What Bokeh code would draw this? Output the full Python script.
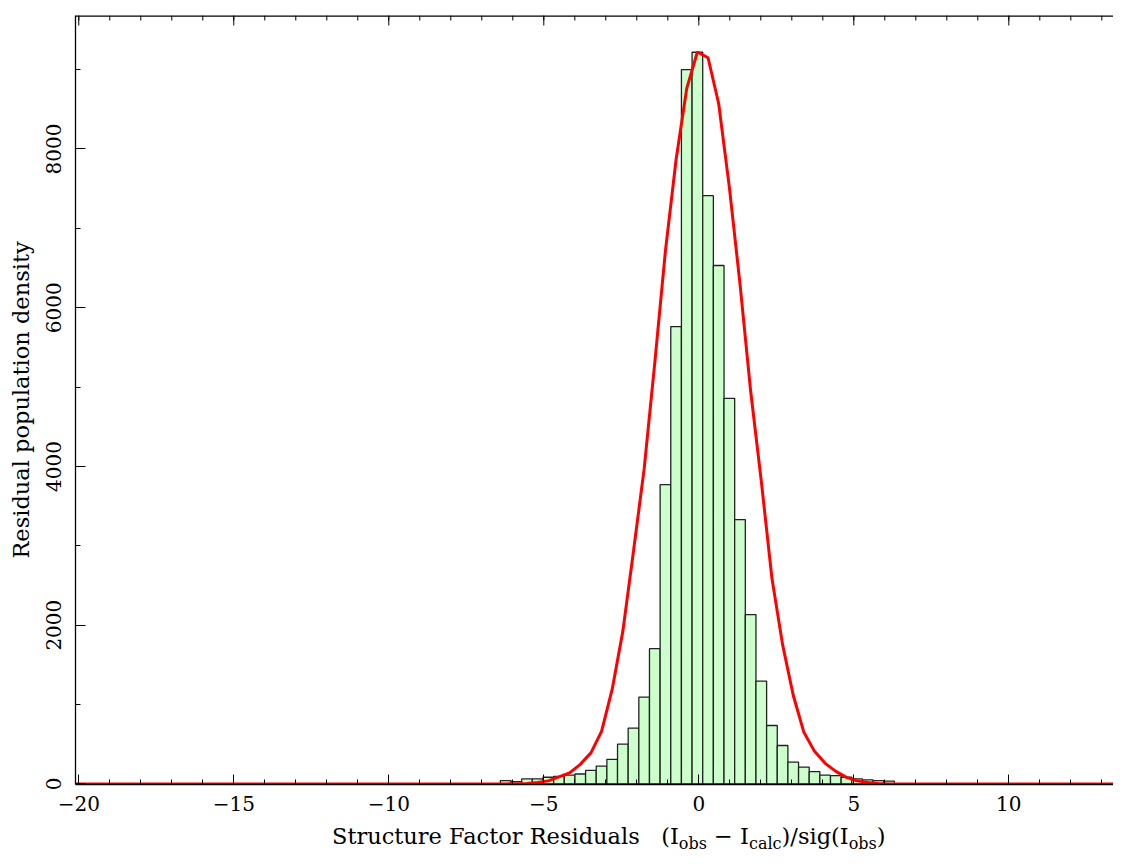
import numpy as np
from bokeh.plotting import figure
from bokeh.models import FixedTicker, Range1d, Span, Div
from bokeh.layouts import column
from bokeh.embed import file_html
from bokeh.resources import INLINE

# ---- data ----
BIN_START = -6.40      # left edge of first non-empty bin
BIN_WIDTH = 0.3435     # histogram bin width
counts = [42, 29, 63, 63, 84, 95, 110, 125, 170, 225,
          309, 500, 703, 1094, 1704, 3772, 5763, 9001, 9219, 7412,
          6532, 4858, 3331, 2133, 1296, 736, 484, 275, 212, 154,
          110, 105, 84, 63, 50, 42, 34]
fit = [0, 3, 6, 19, 38, 88, 139, 246, 391, 662,
       1193, 1925, 2934, 3969, 5307, 6720, 7868, 8764, 9222, 9150,
       8570, 7520, 6300, 4950, 3815, 2590, 1755, 1117, 650, 410,
       259, 158, 82, 38, 19, 6, 0]
X_MIN, X_MAX = -20.106, 13.377
Y_MIN, Y_MAX = -7.6, 9682
x_major = [-20, -15, -10, -5, 0, 5, 10]
x_minor = list(range(-20, 14))
x_labels = ["\u221220", "\u221215", "\u221210", "\u22125", "0", "5", "10"]
y_major = [0, 2000, 4000, 6000, 8000]
y_minor = list(range(0, 10000, 1000))

n = len(counts)
left = BIN_START + np.arange(n) * BIN_WIDTH
right = left + BIN_WIDTH
centers = left + BIN_WIDTH / 2

FONT = "DejaVu Serif"
FIG_H = 822

p = figure(width=1113, height=FIG_H,
           x_range=Range1d(X_MIN, X_MAX), y_range=Range1d(Y_MIN, Y_MAX),
           min_border_left=75, min_border_right=0, min_border_top=15,
           min_border_bottom=FIG_H - 784,
           toolbar_location=None, output_backend="svg")
p.grid.visible = False
p.outline_line_color = None
p.background_fill_color = "white"
p.border_fill_color = "white"

p.quad(left=left, right=right, bottom=0, top=counts,
       fill_color="#ccffcc", line_color="#222222", line_width=1.3)

fx = [X_MIN] + list(centers) + [X_MAX]
fy = [0] + fit + [0]
p.line(fx, fy, line_color="#ff0000", line_width=3)

xa = p.xaxis[0]
xa.ticker = FixedTicker(ticks=x_major, minor_ticks=x_minor)
xa.major_label_overrides = {v: s for v, s in zip(x_major, x_labels)}
ya = p.yaxis[0]
ya.ticker = FixedTicker(ticks=y_major, minor_ticks=y_minor)

for ax in (xa, ya):
    ax.major_tick_in = 10
    ax.major_tick_out = 0
    ax.minor_tick_in = 5
    ax.minor_tick_out = 0
    ax.axis_line_color = "black"
    ax.axis_line_width = 1.3
    ax.major_tick_line_color = "black"
    ax.minor_tick_line_color = "black"
    ax.major_label_text_font = FONT
    ax.major_label_text_font_size = "20px"
    ax.major_label_text_color = "black"

xa.major_label_standoff = 11
ya.major_label_standoff = 14
ya.major_label_orientation = "vertical"
ya.axis_label = "Residual population density"
ya.axis_label_text_font = FONT
ya.axis_label_text_font_style = "normal"
ya.axis_label_text_font_size = "22.5px"
ya.axis_label_text_color = "black"
ya.axis_label_standoff = 10

# mirrored frame on top: border line plus inward ticks
px_per_y = (Y_MAX - Y_MIN) / 769.0
p.add_layout(Span(location=Y_MAX, dimension="width", line_color="black", line_width=2.6))
p.segment(x0=x_major, y0=Y_MAX, x1=x_major, y1=Y_MAX - 10 * px_per_y,
          line_color="black", line_width=1)
p.segment(x0=x_minor, y0=Y_MAX, x1=x_minor, y1=Y_MAX - 5 * px_per_y,
          line_color="black", line_width=1)

# x-axis title with subscripts
SUB = '<span style="font-size:16px;position:relative;top:5px;">%s</span>'
title_html = ("Structure Factor Residuals&nbsp;&nbsp;&nbsp;(I" + SUB % "obs" +
              "&nbsp;\u2212&nbsp;I" + SUB % "calc" + ")/sig(I" + SUB % "obs" + ")")
html = ('<div style="padding-left:332px;padding-top:3px;font-family:\'DejaVu Serif\';'
        'font-size:22.5px;line-height:22px;white-space:nowrap;color:black;">'
        + title_html + '</div>')
xlabel = Div(text=html, width=1113, height=851 - FIG_H, margin=(0, 0, 0, 0))

layout = column(p, xlabel, spacing=0)
open("out.html", "w").write(file_html(layout, INLINE))
